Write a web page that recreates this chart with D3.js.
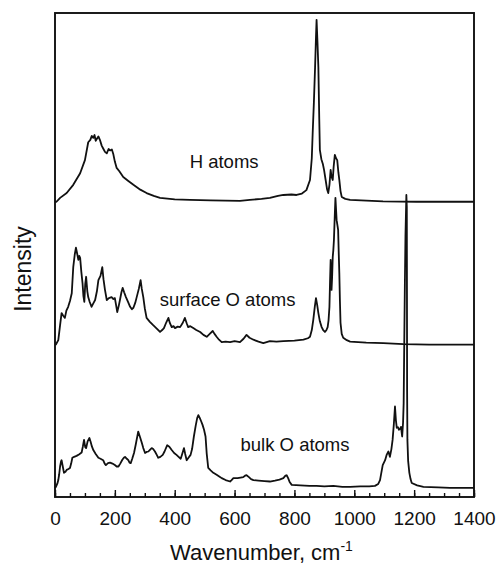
<!DOCTYPE html>
<html>
<head>
<meta charset="utf-8">
<script src="https://cdn.jsdelivr.net/npm/d3@7"></script>
<style>
  html, body { margin: 0; padding: 0; background: #fff; }
  svg { display: block; }
  text { font-family: "Liberation Sans", Arial, Helvetica, sans-serif; fill: #111; }
</style>
</head>
<body>
<svg id="chart" width="499" height="574"></svg>
<script>
// Vibrational density of states, [wavenumber (cm-1), intensity (arb. units)]
const hAtoms = [[0,0],[5,0],[17,0.8],[39,1.8],[61,3.5],[84,5.9],[100,8.6],[111,12.3],[118,12.8],[123,13.6],[128,13.2],[132,13.8],[136,12.6],[140,13.0],[145,13.5],[150,12.8],[156,11.6],[161,11.0],[167,10.3],[173,10.0],[179,10.9],[184,10.6],[190,10.8],[195,9.8],[200,8.3],[206,7.0],[215,6.3],[228,5.1],[245,4.3],[262,3.5],[285,2.5],[306,1.8],[330,1.2],[351,0.8],[400,0.5],[451,0.4],[520,0.3],[618,0.2],[651,0.4],[690,0.6],[718,0.8],[745,1.2],[763,1.4],[790,1.5],[807,1.4],[825,1.7],[840,2.4],[852,4.5],[858,9],[861,14.2],[865,20.5],[869,27.8],[872,34],[874,37.6],[877,33],[880,27.8],[883,17],[885,10.7],[890,8.8],[895,7.8],[899,6.6],[904,4.6],[909,2.6],[913,1.8],[917,3.5],[921,6.6],[924,5.2],[928,4.5],[931,7.2],[935,9.7],[939,9.0],[943,8.6],[947,6.0],[950,4.5],[954,2.2],[958,1.0],[970,0.6],[986,0.4],[1096,0.1],[1208,0],[1400,0]];

const surfaceOAtoms = [[0,0],[3,0],[11,0.9],[17,4],[22,6.5],[27,6.0],[33,5.5],[38,7.0],[44,7.8],[50,9.0],[56,10.6],[61,16.0],[66,18.6],[70,20.0],[74,18.8],[78,17.5],[81,18.3],[84,17.9],[88,15.0],[92,12.7],[95,10.0],[98,8.8],[101,12.5],[104,14.0],[108,11.0],[111,9.8],[116,8.8],[122,7.8],[128,8.5],[134,9.2],[140,11.0],[145,13.3],[152,14.2],[158,16.0],[162,13.5],[167,11.3],[173,9.2],[180,9.6],[189,9.8],[195,9.4],[200,9.6],[204,8.2],[208,6.7],[213,8.0],[217,9.2],[222,10.8],[226,11.7],[231,10.8],[237,9.8],[244,8.8],[251,7.8],[257,7.3],[262,7.6],[268,8.6],[273,9.8],[280,11.5],[286,13.3],[290,11.5],[295,9.8],[300,7.5],[306,5.5],[317,4.7],[328,4.0],[340,3.3],[351,2.6],[358,3.0],[364,3.4],[372,4.6],[379,5.5],[384,4.4],[390,3.6],[396,3.8],[401,3.4],[410,3.7],[418,3.6],[427,4.5],[434,5.5],[440,4.4],[445,3.6],[452,3.8],[462,3.4],[472,3.0],[485,2.6],[496,2.0],[507,1.6],[517,2.2],[527,2.8],[533,2.2],[540,1.6],[548,1.0],[557,0.5],[570,0.6],[585,0.5],[600,0.7],[618,0.5],[630,1.2],[640,2.0],[650,1.4],[663,1.0],[680,0.6],[696,0.3],[718,0.7],[740,0.6],[763,0.7],[800,0.8],[830,1.0],[845,1.3],[852,1.6],[858,3.0],[863,5.1],[868,7.8],[872,9.6],[876,8.2],[880,6.5],[885,4.8],[891,3.6],[896,3.0],[902,2.6],[907,3.0],[911,3.6],[914,5.0],[917,7.8],[919,13],[921,17.5],[923,14],[924,11.3],[926,14],[928,18.1],[930,19.5],[932,21.6],[935,27],[937,30.3],[939,28],[941,25.7],[944,24.5],[946,23.7],[948,19],[950,14.8],[952,9],[954,4.5],[958,2.2],[963,1.4],[975,0.9],[986,0.6],[1040,0.4],[1097,0.3],[1164,0.1],[1250,0],[1400,0]];

const bulkOAtoms = [[0,0],[3,0.2],[8,0.9],[11,1.6],[14,2.8],[17,4.4],[20,5.4],[22,5.7],[26,4.4],[30,3.1],[35,3.3],[39,3.7],[45,3.9],[50,4.1],[54,5.0],[58,6.2],[64,6.4],[72,6.6],[80,6.9],[89,7.3],[93,8.5],[97,9.9],[101,8.4],[104,8.2],[109,9.6],[115,10.3],[119,9.5],[123,8.6],[128,7.8],[136,7.0],[145,6.2],[152,6.0],[161,5.7],[166,5.0],[170,4.7],[177,5.1],[184,5.2],[192,5.0],[200,4.7],[206,4.4],[212,4.4],[218,5.0],[225,5.8],[230,6.2],[234,6.4],[240,6.0],[245,5.7],[249,5.2],[253,5.1],[258,6.0],[264,7.2],[270,9.0],[278,11.6],[284,10.5],[290,9.3],[295,8.2],[301,7.2],[306,7.4],[312,7.5],[318,7.9],[323,8.2],[328,8.0],[334,7.5],[340,6.8],[345,6.2],[352,6.4],[360,6.8],[366,7.5],[375,8.8],[382,8.5],[390,7.8],[398,7.2],[406,6.8],[413,6.4],[420,6.0],[424,6.8],[428,7.6],[431,8.2],[435,7.0],[440,5.7],[446,6.2],[453,6.8],[458,8.0],[464,10.6],[470,12.8],[475,14.4],[479,15.0],[484,14.4],[488,13.8],[493,13.0],[498,12.0],[503,10.6],[507,7.0],[512,4.1],[520,3.6],[529,3.1],[540,2.7],[550,2.3],[557,2.0],[570,1.6],[585,1.3],[590,1.6],[596,2.0],[610,2.0],[620,2.1],[629,2.2],[635,2.5],[640,2.6],[648,2.2],[655,1.8],[663,1.6],[680,1.5],[700,1.4],[718,1.3],[735,1.5],[750,1.7],[763,2.0],[770,2.5],[774,2.6],[779,2.0],[784,1.2],[791,0.6],[820,0.5],[850,0.4],[874,0.4],[900,0.3],[930,0.4],[960,0.2],[986,0.2],[1020,0.3],[1050,0.3],[1069,0.4],[1080,0.8],[1086,1.6],[1090,3.0],[1095,4.7],[1099,5.2],[1103,5.7],[1108,6.8],[1114,7.5],[1119,6.4],[1124,8.0],[1128,9.9],[1132,13],[1136,16.8],[1139,14],[1142,12.4],[1146,12.5],[1149,12.0],[1153,12.2],[1156,12.6],[1160,10.6],[1163,13.5],[1165,17.5],[1167,30],[1169,42],[1171,52],[1174,60.5],[1175.5,58],[1176,40],[1176.5,20],[1177.5,9.9],[1180,5.5],[1184,3.1],[1188,1.8],[1192,1.0],[1210,0.5],[1231,0.2],[1280,0.1],[1320,0],[1400,0]];

// Stacking: vertical offset of each spectrum and its caption
const seriesData = [hAtoms, surfaceOAtoms, bulkOAtoms];
const seriesOffsets = [61, 31.5, 1.9];
const seriesLabels = ["H atoms", "surface O atoms", "bulk O atoms"];
const labelAnchors = [[450, 68], [350, 39.4], [620, 9.6]]; // [wavenumber, intensity] of caption start

const xMajorTicks = [0, 200, 400, 600, 800, 1000, 1200, 1400];
const xMinorTicks = d3.range(0, 1401, 50);
const xTitle = "Wavenumber, cm";
const xTitleSup = "-1";
const yTitle = "Intensity";

const svg = d3.select("#chart");
const margin = { left: 55, right: 25, top: 13, bottom: 77 };
const W = 499, H = 574;

const x = d3.scaleLinear().domain([0, 1400]).range([margin.left, W - margin.right]);
const y = d3.scaleLinear().domain([0, 100]).range([H - margin.bottom, margin.top]);

// frame
svg.append("rect")
  .attr("x", x(0)).attr("y", y(100))
  .attr("width", x(1400) - x(0)).attr("height", y(0) - y(100))
  .attr("fill", "none").attr("stroke", "#111").attr("stroke-width", 1.9);

// minor ticks (inward)
svg.append("g")
  .attr("transform", `translate(0,${y(0)})`)
  .call(d3.axisBottom(x).tickValues(xMinorTicks).tickSize(-4).tickFormat(""))
  .call(g => g.select(".domain").remove())
  .call(g => g.selectAll("line").attr("stroke", "#111").attr("stroke-width", 1.4));

// major ticks and labels
svg.append("g")
  .attr("transform", `translate(0,${y(0)})`)
  .call(d3.axisBottom(x).tickValues(xMajorTicks).tickSize(-7).tickPadding(14.5).tickFormat(d3.format("d")))
  .call(g => g.select(".domain").remove())
  .call(g => g.selectAll("line").attr("stroke", "#111").attr("stroke-width", 1.4))
  .call(g => g.selectAll("text")
    .attr("font-size", 19)
    .attr("font-family", "'Liberation Sans', Arial, sans-serif")
    .attr("fill", "#111"));

// spectra
const line = d3.line()
  .x(d => x(d[0]))
  .y(d => y(d[1]));

seriesData.forEach((s, i) => {
  svg.append("path")
    .datum(s.map(d => [d[0], d[1] + seriesOffsets[i]]))
    .attr("d", line)
    .attr("fill", "none")
    .attr("stroke", "#111")
    .attr("stroke-width", 1.8)
    .attr("stroke-linejoin", "round");
});

// captions
seriesLabels.forEach((t, i) => {
  svg.append("text")
    .attr("x", x(labelAnchors[i][0]))
    .attr("y", y(labelAnchors[i][1]))
    .attr("font-size", 18.5)
    .text(t);
});

// axis titles
const xt = svg.append("text")
  .attr("x", (x(0) + x(1400)) / 2 - 3)
  .attr("y", 560)
  .attr("text-anchor", "middle")
  .attr("font-size", 22);
xt.append("tspan").text(xTitle);
xt.append("tspan").attr("dy", -9).attr("font-size", 14).text(xTitleSup);

svg.append("text")
  .attr("transform", `translate(31,${269}) rotate(-90)`)
  .attr("text-anchor", "middle")
  .attr("font-size", 23)
  .text(yTitle);
</script>
</body>
</html>
